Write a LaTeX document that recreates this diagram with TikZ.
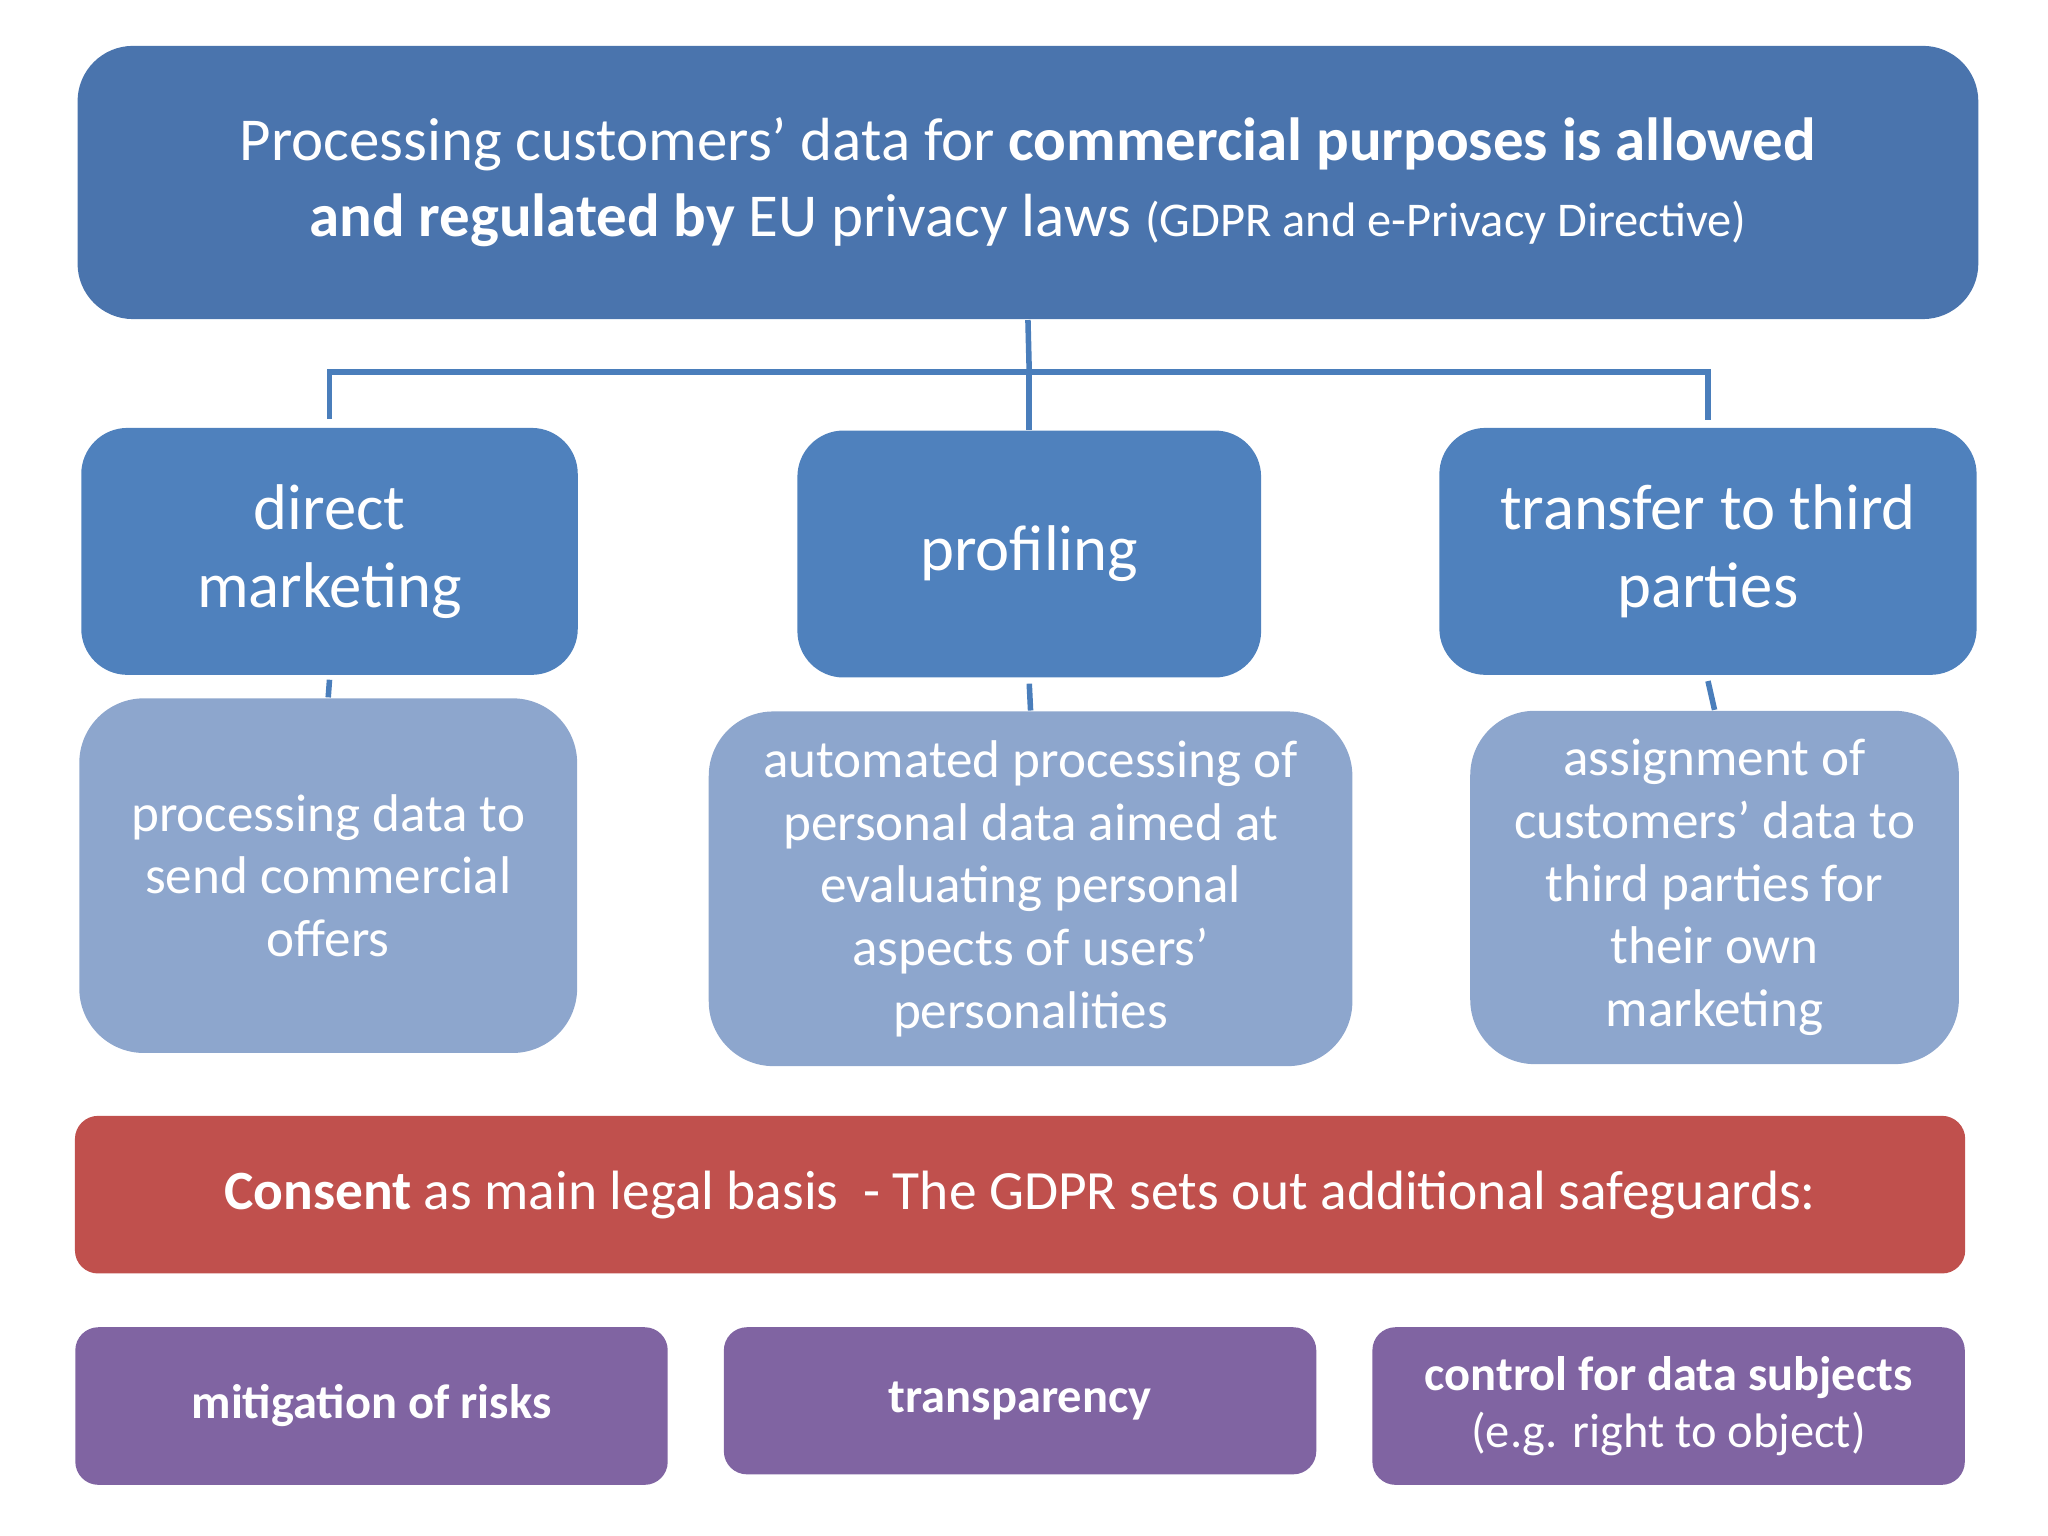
\documentclass[tikz,border=0pt]{standalone}
\usepackage{fontspec}
\setmainfont{Carlito}
\begin{document}
\begin{tikzpicture}
		[x=0.01cm,y=-0.01cm,
		head/.style={draw=none,fill=blue!40!black!20!cyan!10!blue!55!gray,rounded corners=10pt,text=white,align=center,inner sep=0pt},
		topic/.style={fill=topicblue,rounded corners=10pt,text=white,align=center,inner sep=0pt,font=\fontsize{14}{17}\selectfont},
		detail/.style={fill=detailblue,rounded corners=14pt,text=white,align=center,inner sep=0pt,font=\fontsize{11.5}{13.6}\selectfont},
		safe/.style={fill=safepurple,rounded corners=5pt,text=white,align=center,inner sep=0pt,font=\fontsize{10.5}{12.5}\selectfont},
		link/.style={draw=linkblue,line width=1.2pt}]
		\definecolor{topicblue}{HTML}{4F81BD}
		\definecolor{headblue}{HTML}{4A74AD}
		\definecolor{detailblue}{HTML}{8DA6CD}
		\definecolor{safepurple}{HTML}{8064A2}
		\definecolor{consentred}{HTML}{C0504D}
		\definecolor{linkblue}{HTML}{4A7EBB}
		\useasboundingbox (0,0) rectangle (1560,1170);
		\node at (783,139) (law) [fill=headblue,rounded corners=12pt,text=white,align=center,inner sep=0pt,minimum width=14.47cm,minimum height=2.08cm,font=\fontsize{13.2}{16.5}\selectfont]
			{Processing customers’ data for \textbf{commercial purposes is allowed}\\\textbf{and regulated by} EU privacy laws {\fontsize{10.5}{12}\selectfont(GDPR and e-Privacy Directive)}};
		\node at (251,420) (dm) [topic,minimum width=3.78cm,minimum height=1.88cm] {direct\\marketing};
		\node at (784,422) (pr) [topic,minimum width=3.53cm,minimum height=1.88cm] {profiling};
		\node at (1301,420) (tp) [topic,minimum width=4.09cm,minimum height=1.88cm] {transfer to third\\parties};
		\node at (250,667) (dmd) [detail,minimum width=3.79cm,minimum height=2.70cm] {processing data to\\send commercial\\offers};
		\node at (785,677) (prd) [detail,minimum width=4.90cm,minimum height=2.70cm] {automated processing of\\personal data aimed at\\evaluating personal\\aspects of users’\\personalities};
		\node at (1306,676) (tpd) [detail,minimum width=3.72cm,minimum height=2.69cm] {assignment of\\customers’ data to\\third parties for\\their own\\marketing};
		\node at (777,910) (consent) [fill=consentred,rounded corners=5pt,text=white,inner sep=0pt,minimum width=14.39cm,minimum height=1.20cm,font=\fontsize{12}{14}\selectfont]
			{\textbf{Consent} as main legal basis~ - The GDPR sets out additional safeguards:};
		\node at (283,1071) (risk) [safe,minimum width=4.51cm,minimum height=1.20cm] {\textbf{mitigation of risks}};
		\node at (777,1067) (trans) [safe,minimum width=4.51cm,minimum height=1.12cm] {\textbf{transparency}};
		\node at (1271,1071) (ctrl) [safe,minimum width=4.51cm,minimum height=1.20cm] {\textbf{control for data subjects}\\(e.g. right to object)};
		\coordinate (hub) at (784,284);
		\draw[link] (law.south) -- (hub);
		\draw[link] (dm.north) ++(0,-6) -- ++(0,-36) -| (tp.north |- 0,320);
		\draw[link] (hub) -- (pr.north);
		\draw[link] (dm.south) ++(0,3) -- (dmd.north);
		\draw[link] (pr.south) ++(0,4) -- (prd.north);
		\draw[link] (tp.south) ++(0,4) -- (tpd.north);
\end{tikzpicture}
\end{document}
